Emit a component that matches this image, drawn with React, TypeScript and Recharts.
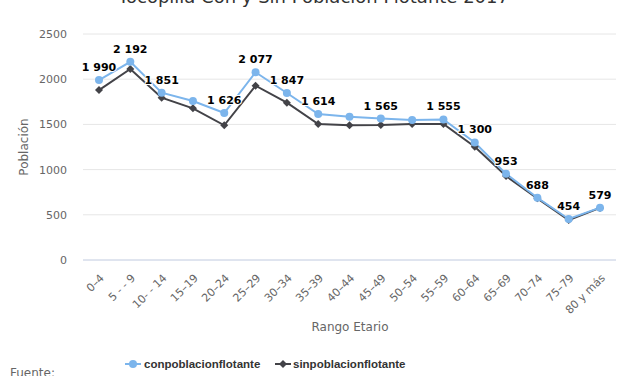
import { LineChart, Line, XAxis, YAxis, CartesianGrid, LabelList } from "recharts";

const categories = [
  "0–4", "5 - - 9", "10- - 14", "15–19", "20–24", "25–29", "30–34", "35–39", "40–44",
  "45–49", "50–54", "55–59", "60–64", "65–69", "70–74", "75–79", "80 y más",
];
const conPoblacion = [1990, 2192, 1851, 1759, 1626, 2077, 1847, 1614, 1585, 1565, 1549, 1555, 1300, 953, 688, 454, 579];
const sinPoblacion = [1880, 2113, 1796, 1678, 1490, 1928, 1740, 1504, 1490, 1493, 1504, 1504, 1253, 929, 682, 442, 576];
const yTicks = [0, 500, 1000, 1500, 2000, 2500];
// labels hidden by overlap in the original
const hiddenLabels = ["15–19", "40–44", "50–54"];

const data = categories.map((c, i) => ({ rango: c, con: conPoblacion[i], sin: sinPoblacion[i] }));

const FONT = "'DejaVu Sans', sans-serif";
const LEGEND_FONT = "'Liberation Sans', Arial, sans-serif";
const fmt = (v: number) => (v >= 1000 ? `${Math.floor(v / 1000)} ${String(v % 1000).padStart(3, "0")}` : String(v));

function XTick({ x, y, payload }: any) {
  const ax = x + 3;
  const ay = y + 8;
  return (
    <text x={ax} y={ay} transform={`rotate(-45 ${ax} ${ay})`} textAnchor="end"
      fontSize={11} fill="#666" fontFamily={FONT} dy="0.35em">
      {payload.value}
    </text>
  );
}

function DataLabel({ x, y, value, index }: any) {
  if (hiddenLabels.includes(categories[index])) return null;
  return (
    <text x={x} y={y - 9} textAnchor="middle" fontSize={11} fontWeight="bold" fill="#000"
      stroke="#fff" strokeWidth={2} paintOrder="stroke" fontFamily={FONT}>
      {fmt(value)}
    </text>
  );
}

function Diamond({ cx, cy }: any) {
  if (cx == null) return null;
  return <path d={`M${cx} ${cy - 4}L${cx + 4} ${cy}L${cx} ${cy + 4}L${cx - 4} ${cy}Z`} fill="#434348" />;
}

function LegendBox() {
  return (
    <svg width={627} height={20} style={{ position: "absolute", left: 0, top: 354 }}>
      <line x1={125} y1={10} x2={141} y2={10} stroke="#7cb5ec" strokeWidth={2} />
      <circle cx={133} cy={10} r={4} fill="#7cb5ec" />
      <text x={144} y={14} fontSize={11.5} fontWeight="bold" fill="#333" fontFamily={LEGEND_FONT}>conpoblacionflotante</text>
      <line x1={275} y1={10} x2={291} y2={10} stroke="#434348" strokeWidth={2} />
      <Diamond cx={283} cy={10} />
      <text x={293} y={14} fontSize={11.5} fontWeight="bold" fill="#333" fontFamily={LEGEND_FONT}>sinpoblacionflotante</text>
    </svg>
  );
}

export default function App() {
  return (
    <div style={{ position: "absolute", left: 0, top: 0, width: 627, height: 376, overflow: "hidden", background: "#fff", fontFamily: FONT }}>
      <div style={{ position: "absolute", top: -14, width: 627, textAlign: "center", fontSize: 18, color: "#333" }}>
        Tocopilla Con y Sin Población Flotante 2017
      </div>
      <LineChart width={627} height={376} data={data} margin={{ top: 34, right: 11, bottom: 56, left: 23 }}>
        <CartesianGrid vertical={false} stroke="#e6e6e6" />
        <XAxis dataKey="rango" interval={0} height={60} tick={<XTick />} tickLine={false}
          padding={{ left: 16, right: 16 }} axisLine={{ stroke: "#ccd6eb" }} />
        <YAxis domain={[0, 2500]} ticks={yTicks} width={60} axisLine={false} tickLine={false}
          tick={{ fontSize: 11, fill: "#666", fontFamily: FONT }} tickMargin={10} />
        <Line dataKey="sin" name="sinpoblacionflotante" stroke="#434348" strokeWidth={2}
          dot={<Diamond />} activeDot={false} isAnimationActive={false} />
        <Line dataKey="con" name="conpoblacionflotante" stroke="#7cb5ec" strokeWidth={2}
          dot={{ r: 4, fill: "#7cb5ec", stroke: "none" }} activeDot={false} isAnimationActive={false}>
          <LabelList dataKey="con" content={<DataLabel />} />
        </Line>
      </LineChart>
      <LegendBox />
      <div style={{ position: "absolute", left: 24, top: 147, transform: "translate(-50%,-50%) rotate(-90deg)", fontSize: 12, color: "#666" }}>
        Población
      </div>
      <div style={{ position: "absolute", left: 350, top: 327, transform: "translate(-50%,-50%)", fontSize: 12, color: "#666" }}>
        Rango Etario
      </div>
      <div style={{ position: "absolute", left: 10, top: 366, fontSize: 12, color: "#666" }}>Fuente:</div>
    </div>
  );
}
